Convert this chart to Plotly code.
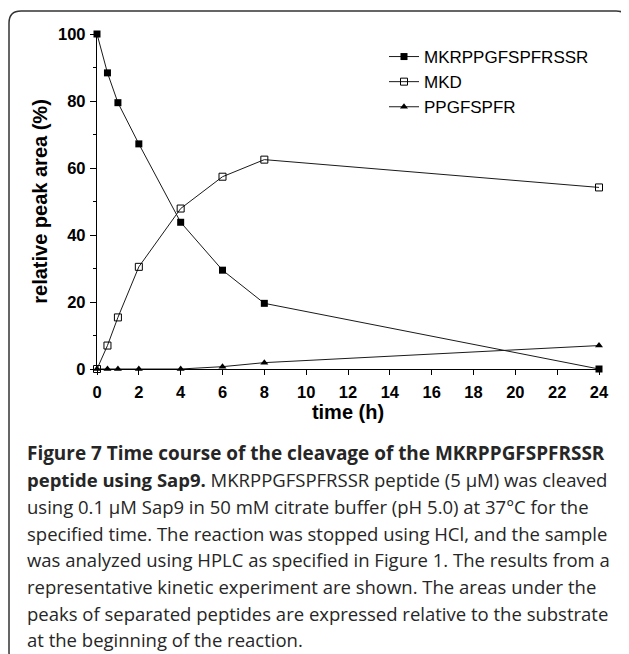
import plotly.graph_objects as go

time_h = [0, 0.5, 1, 2, 4, 6, 8, 24]
substrate = [100, 88.4, 79.5, 67.2, 43.8, 29.5, 19.6, 0]
mkd = [0, 7.0, 15.4, 30.5, 47.9, 57.4, 62.5, 54.2]
ppgfspfr = [0, 0, 0, 0, 0, 0.7, 1.9, 7.0]
series_names = ["MKRPPGFSPFRSSR", "MKD", "PPGFSPFR"]
x_ticks = list(range(0, 25, 2))
y_ticks = [0, 20, 40, 60, 80, 100]
y_minor = [10, 30, 50, 70, 90]

caption_lines = [
    "<b>Figure 7 Time course of the cleavage of the MKRPPGFSPFRSSR</b>",
    "<b>peptide using Sap9.</b> MKRPPGFSPFRSSR peptide (5 µM) was cleaved",
    "using 0.1 µM Sap9 in 50 mM citrate buffer (pH 5.0) at 37°C for the",
    "specified time. The reaction was stopped using HCl, and the sample",
    "was analyzed using HPLC as specified in Figure 1. The results from a",
    "representative kinetic experiment are shown. The areas under the",
    "peaks of separated peptides are expressed relative to the substrate",
    "at the beginning of the reaction.",
]

OFF = 8  # page body margin
W, H = 629 - OFF, 654 - OFF
# plot area in page pixels
L, R, T, B = 97, 599, 34, 369

def px(xp):
    return (xp - L) / (R - L)

def py(yp):
    return (B - yp) / (B - T)

fig = go.Figure()
line_col = "#1a1a1a"
fig.add_trace(go.Scatter(x=time_h, y=substrate, name=series_names[0], mode="lines+markers",
                         line=dict(color=line_col, width=1),
                         marker=dict(symbol="square", size=7, color="black"), cliponaxis=False))
fig.add_trace(go.Scatter(x=time_h, y=mkd, name=series_names[1], mode="lines+markers",
                         line=dict(color=line_col, width=1),
                         marker=dict(symbol="square-open", size=7, color="black", line=dict(width=1)),
                         cliponaxis=False))
fig.add_trace(go.Scatter(x=time_h, y=ppgfspfr, name=series_names[2], mode="lines+markers",
                         line=dict(color=line_col, width=1),
                         marker=dict(symbol="triangle-up", size=7, color="black"), cliponaxis=False))

fam = "Liberation Sans, Arial, sans-serif"
tick_font = dict(family=fam, size=16.5, color="black")
title_font = dict(family=fam, size=20, color="black")
fig.update_xaxes(range=[0, 24], tickvals=x_ticks, ticktext=["<b>%d</b>" % v for v in x_ticks],
                 showgrid=False, zeroline=False, showline=True, linecolor="black", linewidth=1.3,
                 ticks="outside", ticklen=5, tickwidth=1.3, tickcolor="black",
                 ticklabelstandoff=3, tickfont=tick_font,
                 title=dict(text="<b>time (h)</b>", font=title_font, standoff=5))
fig.update_yaxes(range=[0, 100], tickvals=y_ticks, ticktext=["<b>%d</b>" % v for v in y_ticks],
                 showgrid=False, zeroline=False, showline=True, linecolor="black", linewidth=1.3,
                 ticks="outside", ticklen=6, tickwidth=1.3, tickcolor="black",
                 minor=dict(tickvals=y_minor, ticks="outside", ticklen=3, tickwidth=1, tickcolor="black"),
                 ticklabelstandoff=1, tickfont=tick_font,
                 title=dict(text="<b>relative peak area (%)</b>", font=title_font, standoff=5))

fig.update_layout(
    width=W, height=H,
    margin=dict(l=L - OFF, r=W - (R - OFF), t=T - OFF, b=H - (B - OFF)),
    plot_bgcolor="white", paper_bgcolor="white",
    showlegend=True,
    legend=dict(x=px(384), y=py(39), xanchor="left", yanchor="top",
                font=dict(family=fam, size=17, color="black"),
                bgcolor="rgba(0,0,0,0)", itemwidth=30, tracegroupgap=0),
)

# rounded border (page pixel coordinates)
x0, y0, x1, y1, r = 9, 11, 628, 664, 12
pts = [("M", x0 + r, y0), ("L", x1 - r, y0), ("Q", x1, y0), ("", x1, y0 + r), ("L", x1, y1 - r),
       ("Q", x1, y1), ("", x1 - r, y1), ("L", x0 + r, y1), ("Q", x0, y1), ("", x0, y1 - r),
       ("L", x0, y0 + r), ("Q", x0, y0), ("", x0 + r, y0)]
path = " ".join(f"{c} {px(a)},{py(b)}".strip() for c, a, b in pts) + " Z"
fig.add_shape(type="path", path=path, xref="paper", yref="paper",
              line=dict(color="#333333", width=1.5), layer="below")

for i, line in enumerate(caption_lines):
    size = 18.95 if i == 0 else 18.5
    fig.add_annotation(text=line, x=px(25), y=py(453 + i * 26.7), xref="paper", yref="paper",
                       xanchor="left", yanchor="middle", showarrow=False, align="left",
                       font=dict(family="Open Sans, sans-serif", size=size, color="#262626"))

fig.write_html("out.html")
